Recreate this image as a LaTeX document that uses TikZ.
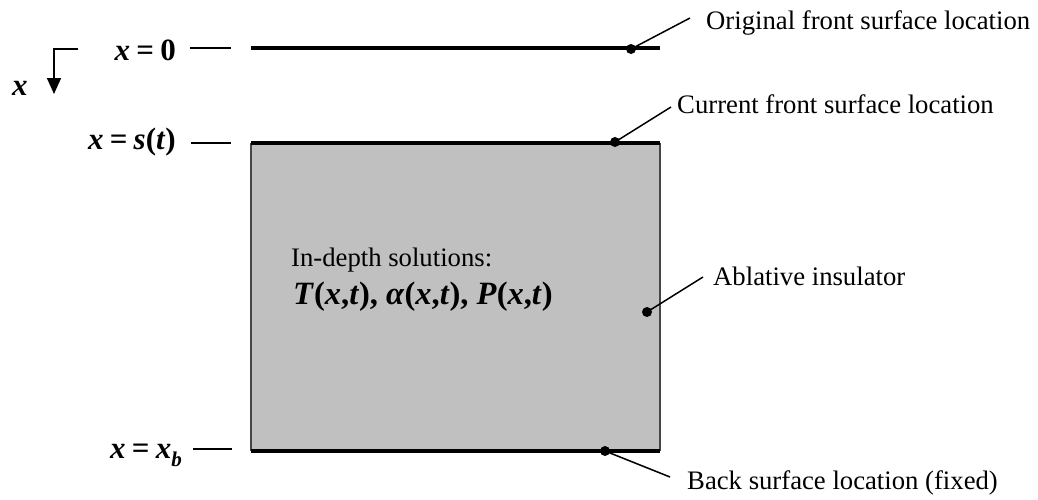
\documentclass[tikz,border=0pt]{standalone}
\usepackage{fontspec}
\setmainfont{Liberation Serif}
\usetikzlibrary{arrows.meta}
\definecolor{slab}{RGB}{192,192,192}
\definecolor{edge}{RGB}{70,70,70}
\newcommand\bi[1]{\textbf{\textit{#1}}}
\newcommand\eqs{\hspace{0.2em}\textbf{=}\hspace{0.2em}}
\begin{document}
\begin{tikzpicture}[x=1pt,y=-1pt,
  lbl/.style={font=\fontsize{26.7}{30}\selectfont, inner sep=0pt, anchor=base west},
  mth/.style={font=\fontsize{31}{34}\selectfont, inner sep=0pt},
  dot/.style={circle, fill=black, inner sep=0pt, minimum size=10pt},
  leader/.style={line width=1.5pt},
  surf/.style={line width=3.2pt},
  tickline/.style={line width=1.6pt}]
\useasboundingbox (0,0) rectangle (1038,499);
% corners
\coordinate (tl) at (251,143);
\coordinate (tr) at (660,143);
\coordinate (bl) at (251,451);
\coordinate (br) at (660,451);
\coordinate (ol) at (251,48);
\coordinate (or) at (660,48);
% slab
\fill[slab] (tl) rectangle (br);
\draw[line width=1.8pt, edge] (tl) -- (bl);
\draw[line width=1.8pt, edge] (tr) -- (br);
\draw[surf] (tl) -- (tr);
\draw[surf] (bl) -- (br);
\draw[surf] (ol) -- (or);
% left labels
\node[mth, anchor=base east] (x0) at (176,60) {\bi{x}\eqs\textbf{0}};
\node[mth, anchor=base east] (xs) at (176,149) {\bi{x}\eqs\bi{s}\textbf{(}\bi{t}\textbf{)}};
\node[mth, anchor=base east] (xb) at (182,458) {\bi{x}\eqs\bi{x}\raisebox{-0.28em}{\fontsize{21}{21}\selectfont\bi{b}}};
% dashes
\coordinate (a1) at (190,48); \coordinate (a2) at (231,48);
\coordinate (b1) at (191,143); \coordinate (b2) at (231,143);
\coordinate (c1) at (193,449); \coordinate (c2) at (232,449);
\draw[tickline] (a1) -- (a2);
\draw[tickline] (b1) -- (b2);
\draw[tickline] (c1) -- (c2);
% axis arrow
\coordinate (ax0) at (78,49);
\coordinate (ax1) at (54,49);
\coordinate (ax2) at (54,94);
\draw[tickline, -{Triangle[width=14pt,length=16pt]}] (ax0) -- (ax1) -- (ax2);
\node[mth, anchor=base west] (xax) at (12,95) {\bi{x}};
% inside text
\node[lbl] (ind) at (291,266) {In-depth solutions:};
\node[mth, anchor=base west, font=\fontsize{32.5}{35}\selectfont] (sol) at (293,304) {\bi{T}\textbf{(}\bi{x}\textbf{,}\bi{t}\textbf{),} \bi{α}\textbf{(}\bi{x}\textbf{,}\bi{t}\textbf{),} \bi{P}\textbf{(}\bi{x}\textbf{,}\bi{t}\textbf{)}};
% right labels
\node[lbl] (orig) at (706,29) {Original front surface location};
\node[lbl] (curr) at (677,113) {Current front surface location};
\node[lbl] (abl) at (713,285) {Ablative insulator};
\node[lbl] (back) at (687,489) {Back surface location (fixed)};
% dots and leaders
\node[dot] (d1) at (631,49) {};
\node[dot] (d2) at (615,142) {};
\node[dot] (d3) at (647,312) {};
\node[dot] (d4) at (605,451) {};
\coordinate (e1) at (690,18);
\coordinate (e2) at (671,107);
\coordinate (e3) at (703,277);
\coordinate (e4) at (670,477);
\draw[leader] (d1.center) -- (e1);
\draw[leader] (d2.center) -- (e2);
\draw[leader] (d3.center) -- (e3);
\draw[leader] (d4.center) -- (e4);
\end{tikzpicture}
\end{document}
